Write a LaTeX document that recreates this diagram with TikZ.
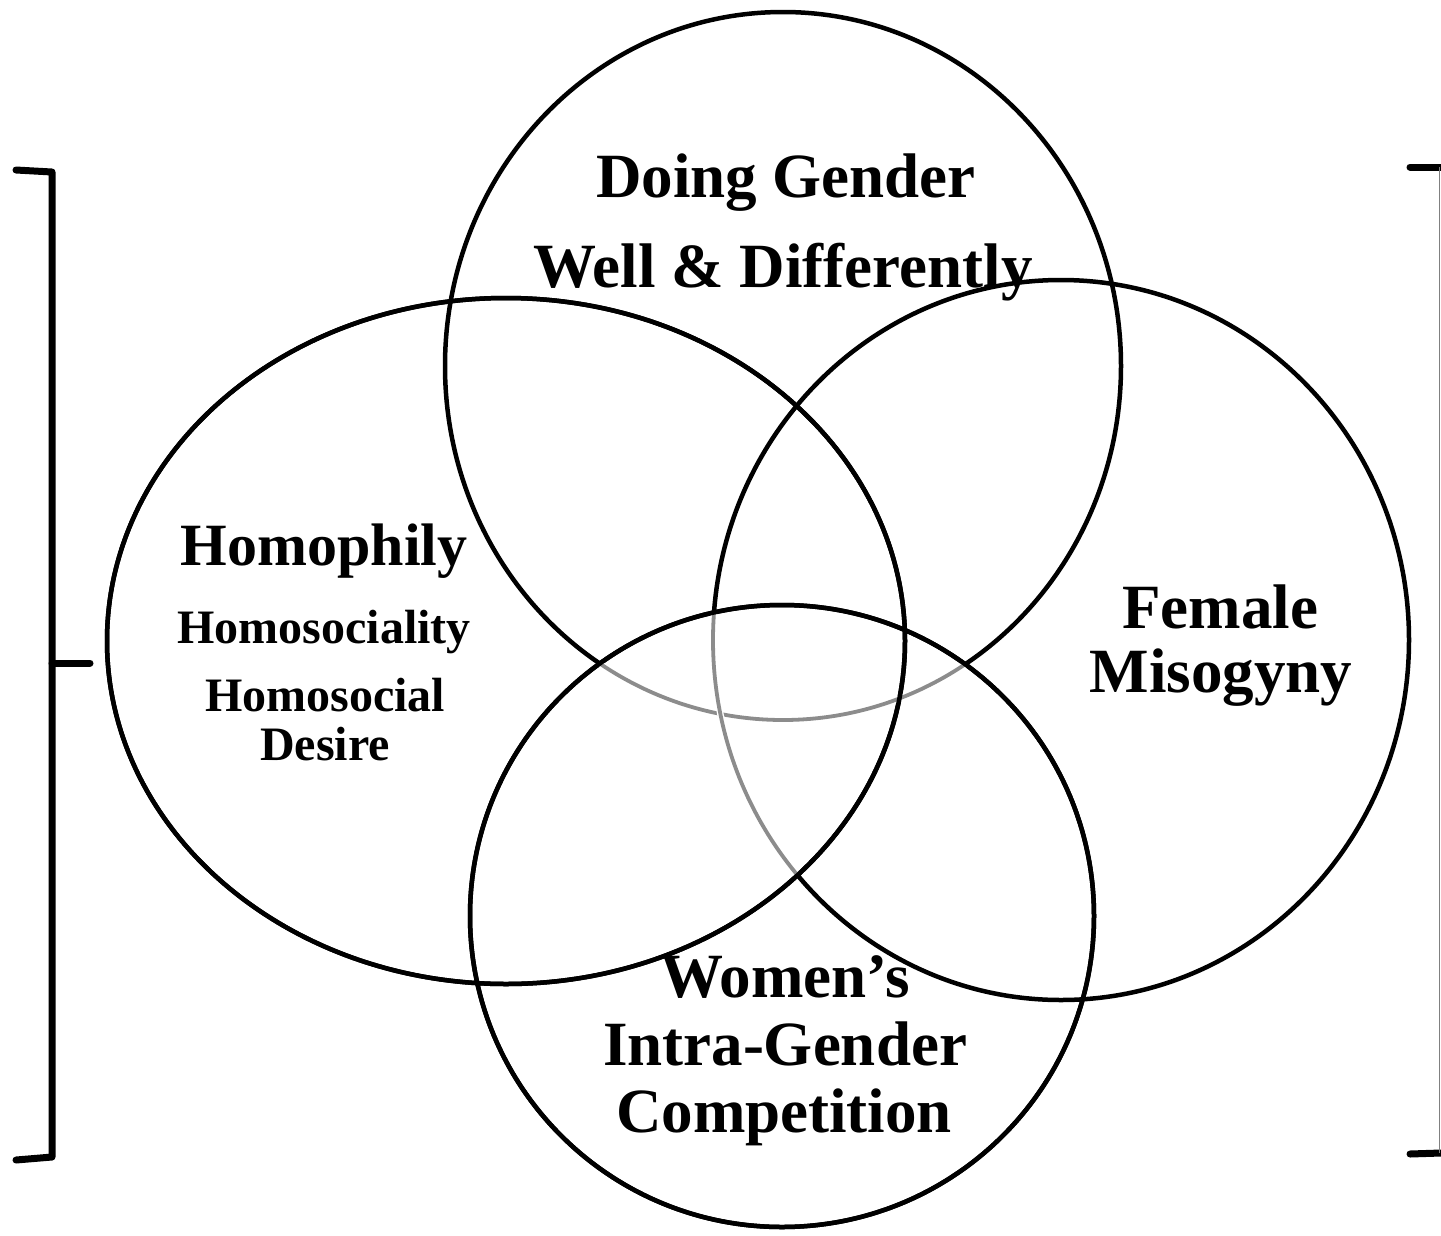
\documentclass[tikz,border=0pt]{standalone}
\usepackage{fontspec}
\setmainfont{Liberation Serif}
\begin{document}
\begin{tikzpicture}[x=1pt,y=-1pt,
  ring/.style={line width=4.5pt,black},
  fade/.style={line width=3.8pt,black!45},
  erase/.style={line width=6.5pt,white},
  brack/.style={line width=7pt,black,line join=round,line cap=round},
  big/.style={font=\fontsize{63}{63}\selectfont\bfseries,anchor=base,inner sep=0pt},
  mid/.style={font=\fontsize{60}{60}\selectfont\bfseries,anchor=base,inner sep=0pt},
  small/.style={font=\fontsize{48}{48}\selectfont\bfseries,anchor=base,inner sep=0pt}]
\useasboundingbox[fill=white] (0,0) rectangle (1441,1235);
% coordinates of ellipse centres
\coordinate (cT) at (783,366);
\coordinate (cL) at (506,641);
\coordinate (cR) at (1061,640);
\coordinate (cB) at (782,916);
% ellipses
\draw[ring] (cT) ellipse [x radius=338pt, y radius=354pt];
\draw[ring] (cL) ellipse [x radius=399pt, y radius=343pt];
\draw[ring] (cR) ellipse [x radius=348pt, y radius=360pt];
\draw[ring] (cB) ellipse [x radius=312pt, y radius=311pt];
% faded segments
\begin{scope}
  \clip (cB) ellipse [x radius=312pt, y radius=311pt];
  \draw[erase] (cT) ellipse [x radius=338pt, y radius=354pt];
  \draw[fade] (cT) ellipse [x radius=338pt, y radius=354pt];
  \clip (cL) ellipse [x radius=399pt, y radius=343pt];
  \draw[erase] (cR) ellipse [x radius=348pt, y radius=360pt];
  \draw[fade] (cR) ellipse [x radius=348pt, y radius=360pt];
\end{scope}
\draw[ring] (cL) ellipse [x radius=399pt, y radius=343pt];
\draw[ring] (cB) ellipse [x radius=312pt, y radius=311pt];
% brackets
\coordinate (l1) at (16,170);
\coordinate (l2) at (52,172);
\coordinate (l3) at (52,1157);
\coordinate (l4) at (16,1160);
\coordinate (lm) at (52,663);
\coordinate (lt) at (90,663);
\draw[brack] (l1) -- (l2) -- (l3) -- (l4);
\draw[brack] (lm) -- (lt);
\coordinate (r1) at (1410,167);
\coordinate (r2) at (1441,167);
\coordinate (r3) at (1410,1154);
\coordinate (r4) at (1441,1153);
\draw[brack] (r1) -- (r2);
\draw[brack] (r3) -- (r4);
\coordinate (rv1) at (1439.5,167);
\coordinate (rv2) at (1439.5,1153);
\draw[line width=1pt,black!50] (rv1) -- (rv2);
% labels
\node[big] (dg) at (786,197) {Doing Gender};
\node[big] (wd) at (783,287) {Well \& Differently};
\node[mid] (hp) at (324,565) {Homophily};
\node[small] (hs) at (324,643) {Homosociality};
\node[small] (hd) at (325,711) {Homosocial};
\node[small] (de) at (325,760) {Desire};
\node[big] (fe) at (1220,628) {Female};
\node[big] (mi) at (1221,692) {Misogyny};
\node[big] (wo) at (785,997) {Women’s};
\node[big] (ig) at (785,1065) {Intra-Gender};
\node[big] (co) at (784,1132) {Competition};
\end{tikzpicture}
\end{document}
